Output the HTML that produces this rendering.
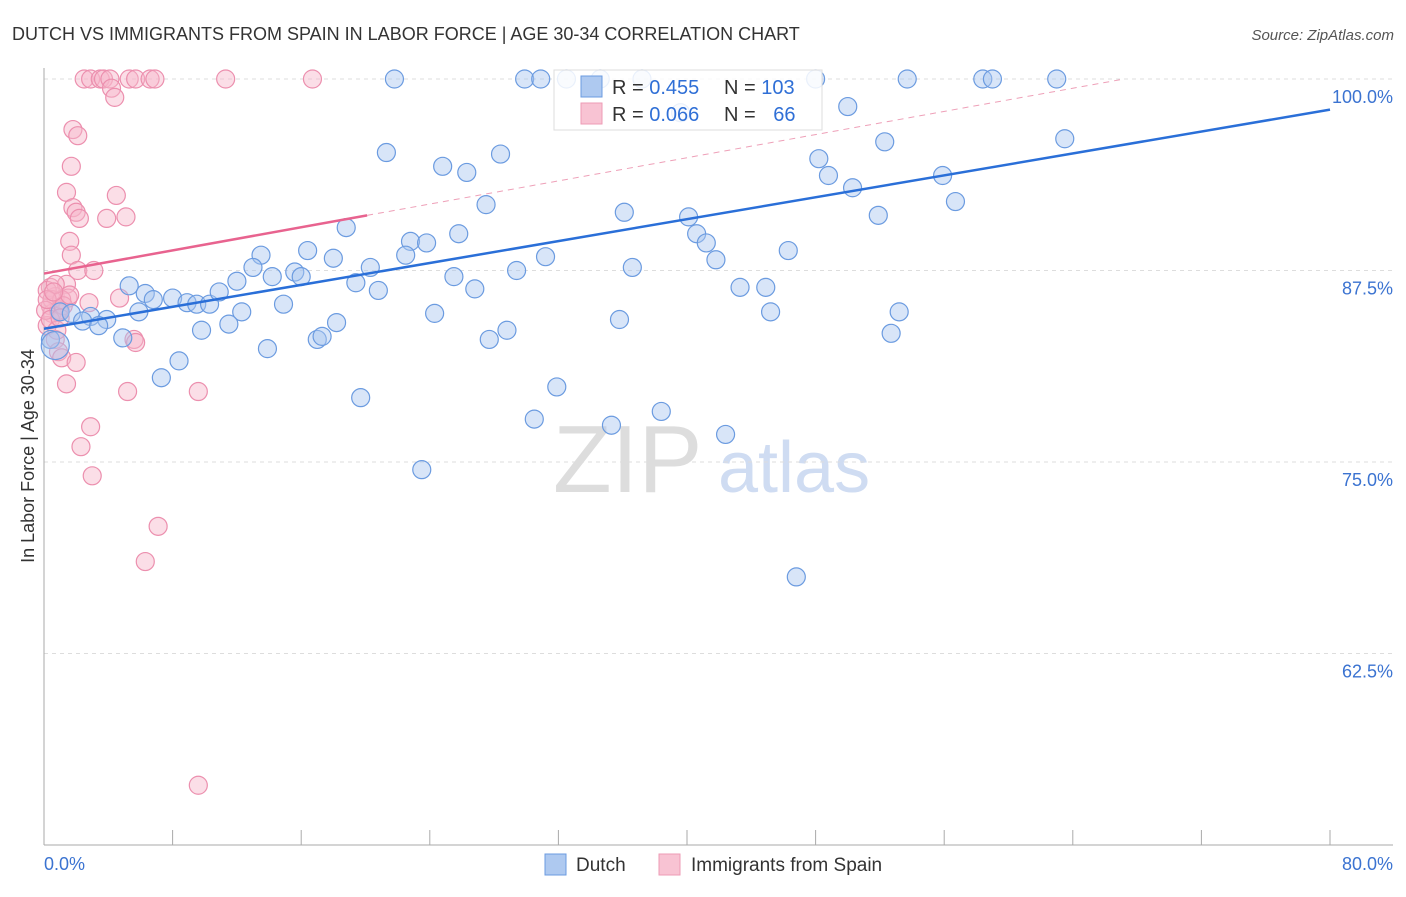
<!DOCTYPE html>
<html><head><meta charset="utf-8"><style>
body{margin:0;background:#fff;font-family:"Liberation Sans",sans-serif;}
svg text{font-family:"Liberation Sans",sans-serif;}
</style></head><body>
<svg id="chart" width="1406" height="892" xmlns="http://www.w3.org/2000/svg">
<text x="12" y="40" font-size="18" fill="#333">DUTCH VS IMMIGRANTS FROM SPAIN IN LABOR FORCE | AGE 30-34 CORRELATION CHART</text>
<text x="1394" y="40" font-size="15" fill="#555" font-style="italic" text-anchor="end">Source: ZipAtlas.com</text>
<text transform="translate(34,456) rotate(-90)" font-size="18" fill="#333" text-anchor="middle">In Labor Force | Age 30-34</text>
<g>
<text x="553" y="492" font-size="96" fill="#ddd" font-family="Liberation Serif">ZIP</text>
<text x="718" y="492" font-size="72" fill="#cfdcf2">atlas</text>
</g>
<g id="grid"></g>
<g id="axes"></g>
<g id="pinkpts"></g>
<g id="bluepts"></g>
<g id="trends"></g>
<g>
<rect x="554" y="70" width="268" height="60" fill="#fff" fill-opacity="0.85" stroke="#ddd"/>
<rect x="581" y="76" width="21" height="21" fill="#aec9f0" stroke="#6b9be0"/>
<rect x="581" y="103" width="21" height="21" fill="#f8c3d3" stroke="#ee9bb6"/>
<text x="612" y="94" font-size="20" fill="#333">R = <tspan fill="#2f6fd6">0.455</tspan></text>
<text x="724" y="94" font-size="20" fill="#333">N = <tspan fill="#2f6fd6">103</tspan></text>
<text x="612" y="121" font-size="20" fill="#333">R = <tspan fill="#2f6fd6">0.066</tspan></text>
<text x="724" y="121" font-size="20" fill="#333">N = <tspan fill="#2f6fd6" dx="12">66</tspan></text>
</g>
<g>
<rect x="545" y="854" width="21" height="21" fill="#aec9f0" stroke="#6b9be0"/>
<text x="576" y="871" font-size="19" fill="#333">Dutch</text>
<rect x="659" y="854" width="21" height="21" fill="#f8c3d3" stroke="#ee9bb6"/>
<text x="691" y="871" font-size="19" fill="#333">Immigrants from Spain</text>
</g>
</svg>
<script>
const NS="http://www.w3.org/2000/svg";
const yTicks=[100,87.5,75,62.5];
const yTickLabels=["100.0%","87.5%","75.0%","62.5%"];
const xTickLabels=["0.0%","80.0%"];
const dutchX=[21.8,29.9,30.9,32.5,34.6,37.2,48.0,53.7,58.4,59.0,63.0,50.0,39.6,63.5,52.3,21.3,28.4,24.8,26.3,48.2,48.8,50.3,55.9,56.7,27.5,36.1,40.1,51.9,18.8,25.8,40.6,41.2,22.8,23.8,16.4,13.5,22.5,31.2,41.8,46.3,18.0,13.0,20.3,29.4,36.6,15.6,16.0,14.2,12.0,25.5,19.4,20.8,26.8,43.3,44.9,5.3,6.3,6.8,8.0,8.9,9.5,10.3,10.9,14.9,5.9,12.3,24.3,45.2,53.2,1.0,1.7,2.9,3.9,2.4,3.4,11.5,18.2,35.8,9.8,4.9,17.0,17.3,27.7,28.8,52.7,0.4,13.9,8.4,7.3,31.9,19.7,38.4,30.5,35.3,42.4,23.5,46.8,0.7];
const dutchY=[100,100,100,100,100,100,100,100,100,100,100,98.2,97.8,96.1,95.9,95.2,95.1,94.3,93.9,94.8,93.7,92.9,93.7,92.0,91.8,91.3,91.0,91.1,90.3,89.9,89.9,89.3,89.4,89.3,88.8,88.5,88.5,88.4,88.2,88.8,88.3,87.7,87.7,87.5,87.7,87.4,87.1,87.1,86.8,87.1,86.7,86.2,86.3,86.4,86.4,86.5,86.0,85.6,85.7,85.4,85.3,85.3,86.1,85.3,84.8,84.8,84.7,84.8,84.8,84.8,84.7,84.5,84.3,84.2,83.9,84.0,84.1,84.3,83.6,83.1,83.0,83.2,83.0,83.6,83.4,83.0,82.4,81.6,80.5,79.9,79.2,78.3,77.8,77.4,76.8,74.5,67.5,82.6];
const spainX=[2.5,2.9,3.5,3.7,4.1,5.3,5.7,6.6,6.9,11.3,16.7,4.2,4.4,1.8,2.1,1.7,1.4,4.5,1.8,2.0,2.2,3.9,5.1,1.6,1.7,2.1,3.1,0.4,1.4,0.7,1.5,0.4,1.0,2.8,4.7,0.5,0.9,0.2,0.7,5.6,5.7,0.9,1.1,2.0,1.4,5.2,9.6,2.9,2.3,3.0,7.1,6.3,9.6,0.2,0.5,1.1,0.1,0.7,1.2,0.4,0.8,1.6,1.0,0.2,0.6];
const spainY=[100,100,100,100,100,100,100,100,100,100,100,99.4,98.8,96.7,96.3,94.3,92.6,92.4,91.6,91.3,90.9,90.9,91.0,89.4,88.5,87.5,87.5,86.4,86.6,85.8,85.7,85.2,84.9,85.4,85.7,84.7,84.9,83.9,83.0,83.0,82.8,82.2,81.8,81.5,80.1,79.6,79.6,77.3,76.0,74.1,70.8,68.5,53.9,86.2,85.6,85.6,84.9,86.6,85.2,84.3,83.6,85.9,84.4,85.6,86.1];
const dutchTrend=[83.7,98.0];
const spainTrend=[87.3,0.189];
const X=v=>44+v/80*1286;
const Y=v=>79+(100-v)/12.5*191.5;
function mk(tag,attrs,parent){const e=document.createElementNS(NS,tag);for(const k in attrs)e.setAttribute(k,attrs[k]);parent.appendChild(e);return e;}
const grid=document.getElementById('grid');
yTicks.forEach((t,i)=>{
 const l=mk('line',{x1:44,x2:1393,y1:Y(t),y2:Y(t),stroke:'#ddd','stroke-dasharray':'4,4'},grid);
 
 
 const tx=mk('text',{x:1393,y:Y(t)+24,'font-size':18,fill:'#3b73d1','text-anchor':'end'},grid);
 tx.textContent=yTickLabels[i];
 
 
});
const axes=document.getElementById('axes');
let a=mk('line',{x1:44,x2:44,y1:68,y2:845,stroke:'#aaa'},axes);


a=mk('line',{x1:44,x2:1393,y1:845,y2:845,stroke:'#aaa'},axes);


for(let i=1;i<=10;i++){const t=mk('line',{x1:X(i*8),x2:X(i*8),y1:830,y2:845,stroke:'#aaa'},axes);
 
 }
let xl=mk('text',{x:44,y:870,'font-size':18,fill:'#3b73d1'},axes);xl.textContent=xTickLabels[0];


xl=mk('text',{x:1393,y:870,'font-size':18,fill:'#3b73d1','text-anchor':'end'},axes);xl.textContent=xTickLabels[1];


const pp=document.getElementById('pinkpts');
spainX.forEach((x,i)=>{const c=mk('circle',{cx:X(x),cy:Y(spainY[i]),r:9,fill:'#f6b6ca','fill-opacity':0.45,stroke:'#ec8fae','stroke-width':1.2},pp);
 
 });
const bp=document.getElementById('bluepts');
dutchX.forEach((x,i)=>{const c=mk('circle',{cx:X(x),cy:Y(dutchY[i]),r:(i===dutchX.length-1?14:9),fill:'#a9c6f0','fill-opacity':0.45,stroke:'#6b9be0','stroke-width':1.2},bp);
 
 });
const tr=document.getElementById('trends');
let l=mk('line',{x1:X(0),y1:Y(dutchTrend[0]),x2:X(80),y2:Y(dutchTrend[1]),stroke:'#2a6fd8','stroke-width':2.5},tr);


const sx=20.1,ex=(100-spainTrend[0])/spainTrend[1];
l=mk('line',{x1:X(0),y1:Y(spainTrend[0]),x2:X(sx),y2:Y(spainTrend[0]+spainTrend[1]*sx),stroke:'#e8638f','stroke-width':2.5},tr);


l=mk('line',{x1:X(sx),y1:Y(spainTrend[0]+spainTrend[1]*sx),x2:X(ex),y2:Y(100),stroke:'#eea0b8','stroke-width':1,'stroke-dasharray':'6,5'},tr);


</script>
</body></html>
